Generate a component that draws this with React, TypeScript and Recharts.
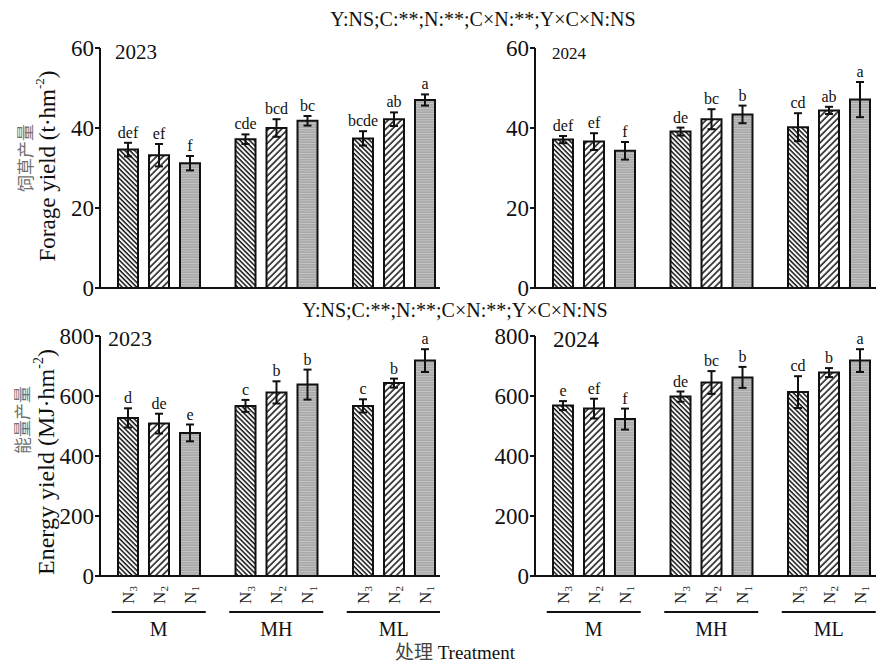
import { Bar, BarChart, ErrorBar, LabelList, XAxis, YAxis } from "recharts";

const FONT = '"Liberation Serif", "Times New Roman", serif';
const CJK = '"Noto Sans CJK SC", sans-serif';

const treatments = ["M", "MH", "ML"];
const levels = ["N3", "N2", "N1"];

// each row: one N level, values for M, MH, ML
const forage2023Mean = [
  [34.6, 37.2, 37.4],
  [33.2, 40.0, 42.2],
  [31.2, 41.8, 47.0],
];
const forage2023Err = [
  [1.7, 1.2, 1.8],
  [2.8, 2.2, 1.7],
  [1.8, 1.2, 1.4],
];
const forage2023Sig = [
  ["def", "cde", "bcde"],
  ["ef", "bcd", "ab"],
  ["f", "bc", "a"],
];

const forage2024Mean = [
  [37.1, 39.1, 40.2],
  [36.6, 42.2, 44.4],
  [34.3, 43.4, 47.1],
];
const forage2024Err = [
  [0.9, 1.0, 3.5],
  [2.1, 2.5, 0.9],
  [2.2, 2.2, 4.4],
];
const forage2024Sig = [
  ["def", "de", "cd"],
  ["ef", "bc", "ab"],
  ["f", "b", "a"],
];

const energy2023Mean = [
  [527, 567, 567],
  [508, 612, 643],
  [477, 638, 718],
];
const energy2023Err = [
  [32, 20, 22],
  [33, 37, 15],
  [28, 50, 38],
];
const energy2023Sig = [
  ["d", "c", "c"],
  ["de", "b", "b"],
  ["e", "b", "a"],
];

const energy2024Mean = [
  [568, 598, 613],
  [558, 645, 678],
  [523, 662, 718],
];
const energy2024Err = [
  [15, 17, 53],
  [33, 38, 15],
  [35, 35, 38],
];
const energy2024Sig = [
  ["e", "de", "cd"],
  ["ef", "bc", "b"],
  ["f", "b", "a"],
];

const forageTicks = [0, 20, 40, 60];
const energyTicks = [0, 200, 400, 600, 800];

function buildRows(mean: number[][], err: number[][], sig: string[][]) {
  return treatments.map((t, i) => {
    const row: Record<string, string | number> = { treatment: t };
    levels.forEach((lv, j) => {
      row[lv] = mean[j][i];
      row[lv + "err"] = err[j][i];
      row[lv + "sig"] = sig[j][i];
    });
    return row;
  });
}

function GroupTick(props: any) {
  const { x, y, payload } = props;
  return (
    <g>
      <line x1={x - 47} x2={x + 47} y1={y + 36} y2={y + 36} stroke="#111" strokeWidth={2} />
      <text x={x} y={y + 60} textAnchor="middle" fontSize={20} fontFamily={FONT} fill="#111">
        {payload.value}
      </text>
    </g>
  );
}

function sigLabel(rows: Record<string, string | number>[], level: string) {
  return (props: any) => {
    const vb = props.viewBox ?? props;
    const row = rows[props.index];
    if (!row || !vb) return null;
    const mean = Number(row[level]);
    const err = Number(row[level + "err"]);
    const top = vb.y - (err * vb.height) / mean;
    return (
      <text x={vb.x + vb.width / 2} y={top - 5} textAnchor="middle" fontSize={16} fontFamily={FONT} fill="#111">
        {props.value}
      </text>
    );
  };
}

function levelLabel(level: string) {
  return (props: any) => {
    const vb = props.viewBox ?? props;
    if (!vb) return null;
    const cx = vb.x + vb.width / 2;
    const cy = vb.y + vb.height + 19;
    return (
      <text
        transform={`translate(${cx},${cy}) rotate(-90)`}
        textAnchor="middle"
        dominantBaseline="central"
        fontSize={17}
        fontFamily={FONT}
        fill="#222"
      >
        N
        <tspan fontSize={11} dy={5}>
          {level.slice(1)}
        </tspan>
      </text>
    );
  };
}

const fills: Record<string, string> = { N3: "n3", N2: "n2", N1: "n1" };

function Panel({
  id,
  rows,
  yMax,
  ticks,
  left,
  top,
  width,
  height,
  padRight,
  showN,
}: {
  id: string;
  rows: Record<string, string | number>[];
  yMax: number;
  ticks: number[];
  left: number;
  top: number;
  width: number;
  height: number;
  padRight: number;
  showN: boolean;
}) {
  return (
    <div style={{ position: "absolute", left, top }}>
      <BarChart
        width={width}
        height={height}
        data={rows}
        barGap={11}
        margin={{ top: 20, right: 0, left: 0, bottom: 0 }}
      >
        <defs>
          <pattern id={`${id}-n3`} patternUnits="userSpaceOnUse" width={3.4} height={3.4} patternTransform="rotate(-45)">
            <rect width={3.4} height={3.4} fill="#fff" />
            <line x1={1} y1={0} x2={1} y2={3.4} stroke="#111" strokeWidth={1.5} />
          </pattern>
          <pattern id={`${id}-n2`} patternUnits="userSpaceOnUse" width={4.6} height={4.6} patternTransform="rotate(45)">
            <rect width={4.6} height={4.6} fill="#fff" />
            <line x1={1} y1={0} x2={1} y2={4.6} stroke="#111" strokeWidth={1.5} />
          </pattern>
          <pattern id={`${id}-n1`} patternUnits="userSpaceOnUse" width={4} height={2.5}>
            <rect width={4} height={2.5} fill="#a8a8a8" />
            <rect width={4} height={0.9} fill="#c6c6c6" />
          </pattern>
        </defs>
        <XAxis
          dataKey="treatment"
          padding={{ left: 0, right: padRight }}
          axisLine={{ stroke: "#111", strokeWidth: 2 }}
          tickLine={false}
          tickSize={0}
          tickMargin={0}
          interval={0}
          height={showN ? 91 : 14}
          tick={showN ? <GroupTick /> : false}
        />
        <YAxis
          type="number"
          domain={[0, yMax]}
          ticks={ticks}
          interval={0}
          width={70}
          tickSize={5}
          tickMargin={1}
          axisLine={{ stroke: "#111", strokeWidth: 2 }}
          tickLine={{ stroke: "#111", strokeWidth: 2 }}
          tick={{ fontSize: 23, fill: "#111", fontFamily: FONT }}
        />
        {levels.map((lv) => (
          <Bar
            key={lv}
            dataKey={lv}
            fill={`url(#${id}-${fills[lv]})`}
            stroke="#111"
            strokeWidth={2}
            barSize={20}
            isAnimationActive={false}
          >
            <ErrorBar dataKey={lv + "err"} width={4} stroke="#111" strokeWidth={2} direction="y" />
            <LabelList dataKey={lv + "sig"} content={sigLabel(rows, lv)} />
            {showN && <LabelList dataKey={lv} content={levelLabel(lv)} />}
          </Bar>
        ))}
      </BarChart>
    </div>
  );
}

const formula = "Y:NS;C:**;N:**;C×N:**;Y×C×N:NS";

export default function App() {
  return (
    <div style={{ position: "absolute", left: 0, top: 0, width: 877, height: 667, background: "#fff", overflow: "hidden" }}>
      <Panel id="f23" rows={buildRows(forage2023Mean, forage2023Err, forage2023Sig)} yMax={60} ticks={forageTicks}
        left={30} top={28} width={410} height={274} padRight={-12.5} showN={false} />
      <Panel id="f24" rows={buildRows(forage2024Mean, forage2024Err, forage2024Sig)} yMax={60} ticks={forageTicks}
        left={465} top={28} width={411} height={274} padRight={-11.5} showN={false} />
      <Panel id="e23" rows={buildRows(energy2023Mean, energy2023Err, energy2023Sig)} yMax={800} ticks={energyTicks}
        left={30} top={316} width={410} height={351} padRight={-12.5} showN />
      <Panel id="e24" rows={buildRows(energy2024Mean, energy2024Err, energy2024Sig)} yMax={800} ticks={energyTicks}
        left={465} top={316} width={411} height={351} padRight={-11.5} showN />

      <svg width={877} height={667} style={{ position: "absolute", left: 0, top: 0, pointerEvents: "none" }}>
        <text x={483} y={26} textAnchor="middle" fontSize={20} fontFamily={FONT} fill="#111">{formula}</text>
        <text x={455} y={317} textAnchor="middle" fontSize={20} fontFamily={FONT} fill="#111">{formula}</text>

        <text x={115} y={59} fontSize={21} fontFamily={FONT} fill="#111">2023</text>
        <text x={552} y={59} fontSize={17} fontFamily={FONT} fill="#111">2024</text>
        <text x={108} y={346} fontSize={22} fontFamily={FONT} fill="#111">2023</text>
        <text x={553} y={347} fontSize={23} fontFamily={FONT} fill="#111">2024</text>

        <text transform="translate(24,158) rotate(-90)" textAnchor="middle" dominantBaseline="central" fontSize={17} fontFamily={CJK} fill="#707070">
          饲草产量
        </text>
        <text transform="translate(47,166) rotate(-90)" textAnchor="middle" dominantBaseline="central" fontSize={23} fontFamily={FONT} fill="#111">
          Forage yield (t·hm<tspan fontSize={13} dy={-8}>-2</tspan><tspan dy={8}>)</tspan>
        </text>
        <text transform="translate(21,420) rotate(-90)" textAnchor="middle" dominantBaseline="central" fontSize={17} fontFamily={CJK} fill="#707070">
          能量产量
        </text>
        <text transform="translate(46,462) rotate(-90)" textAnchor="middle" dominantBaseline="central" fontSize={24} fontFamily={FONT} fill="#111">
          Energy yield (MJ·hm<tspan fontSize={14} dy={-8}>-2</tspan><tspan dy={8}>)</tspan>
        </text>

        <text x={455} y={659} textAnchor="middle" fontSize={19} fill="#111">
          <tspan fontFamily={CJK} fill="#444">处理</tspan>
          <tspan fontFamily={FONT}> Treatment</tspan>
        </text>
      </svg>
    </div>
  );
}
